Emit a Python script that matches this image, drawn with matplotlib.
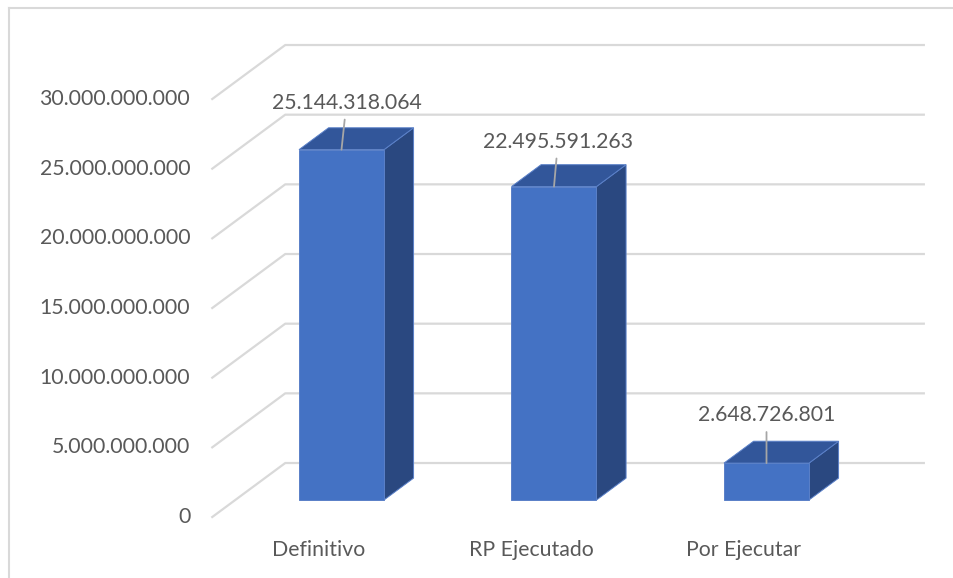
import matplotlib
matplotlib.use("Agg")
import matplotlib.pyplot as plt
from matplotlib.patches import Polygon
from matplotlib.lines import Line2D

# ---- data ----
categories = ["Definitivo", "RP Ejecutado", "Por Ejecutar"]
values = [25144318064, 22495591263, 2648726801]
value_labels = ["25.144.318.064", "22.495.591.263", "2.648.726.801"]
tick_values = [0, 5e9, 10e9, 15e9, 20e9, 25e9, 30e9]
tick_labels = ["0", "5.000.000.000", "10.000.000.000", "15.000.000.000",
               "20.000.000.000", "25.000.000.000", "30.000.000.000"]

W, H = 954, 578
fig = plt.figure(figsize=(W / 100, H / 100), dpi=100)
fig.patch.set_facecolor("white")

# axes = bar-front plane
x0_px, x1_px = 235.25, 872.75
y0_px, y1_px = 500, 82
ax = fig.add_axes([x0_px / W, (H - y0_px) / H, (x1_px - x0_px) / W, (y0_px - y1_px) / H])
ax.set_xlim(-0.5, 2.5)
ax.set_ylim(0, 30e9)
ax.axis("off")

px_per_x = (x1_px - x0_px) / 3.0
px_per_v = (y0_px - y1_px) / 30e9
# oblique depth projection (depth 0 = front of floor, 1 = back wall)
kx = 73 / px_per_x
ky = 54 / px_per_v
d_ref = 0.315


def P(x, v, d):
    return (x + (d - d_ref) * kx, v + (d - d_ref) * ky)


font = "Lato"
tcol = "#595959"
grid_col = "#D9D9D9"
fs = 15.3

# gridlines: left wall diagonal + back wall horizontal
for v in tick_values:
    a = P(-0.5, v, 0.0)
    b = P(-0.5, v, 1.0)
    c = P(2.505, v, 1.0)
    ax.add_line(Line2D([a[0], b[0], c[0]], [a[1], b[1], c[1]], color=grid_col,
                       lw=1.6, clip_on=False, zorder=1))

# tick labels
for v, lab in zip(tick_values, tick_labels):
    a = P(-0.5, v, 0.0)
    ax.annotate(lab, xy=a, xytext=(-22, 0), textcoords="offset pixels",
                ha="right", va="center", fontsize=fs, color=tcol, family=font,
                annotation_clip=False)

# bars
bw = 0.4
d_front, d_back = d_ref, 0.72
front_col = "#4472C4"
side_col = "#2A4880"
top_col = "#32569A"
edge_col = "#5A80C8"
for i, v in enumerate(values):
    xl, xr = i - bw / 2, i + bw / 2
    side = [P(xr, 0, d_front), P(xr, v, d_front), P(xr, v, d_back), P(xr, 0, d_back)]
    top = [P(xl, v, d_front), P(xr, v, d_front), P(xr, v, d_back), P(xl, v, d_back)]
    front = [P(xl, 0, d_front), P(xr, 0, d_front), P(xr, v, d_front), P(xl, v, d_front)]
    for pts, col in ((side, side_col), (top, top_col), (front, front_col)):
        ax.add_patch(Polygon(pts, closed=True, facecolor=col, edgecolor=edge_col,
                             lw=0.7, clip_on=False, zorder=3))

# data labels with leader lines
label_offsets = [(5, 47), (4, 45), (0, 48)]
for i, (v, lab) in enumerate(zip(values, value_labels)):
    anchor = P(i, v, d_front)
    ox, oy = label_offsets[i]
    ax.annotate(lab, xy=anchor, xytext=(ox, oy), textcoords="offset pixels",
                ha="center", va="center", fontsize=fs, color=tcol, family=font,
                annotation_clip=False, zorder=5,
                arrowprops=dict(arrowstyle="-", color="#A6A6A6", lw=1.3,
                                shrinkA=3, shrinkB=0))

# category labels
for i, cat in enumerate(categories):
    a = P(i, 0, 0.0)
    ax.annotate(cat, xy=a, xytext=(0, -33), textcoords="offset pixels",
                ha="center", va="center", fontsize=fs, color=tcol, family=font,
                annotation_clip=False)

# chart frame
fig.add_artist(Line2D([9 / W, 1.0], [1 - 8 / H, 1 - 8 / H], color="#D9D9D9", lw=1.5,
                      transform=fig.transFigure))
fig.add_artist(Line2D([9 / W, 9 / W], [1 - 8 / H, 0.0], color="#D9D9D9", lw=1.5,
                      transform=fig.transFigure))

fig.savefig("out.png", dpi=100, facecolor="white")
